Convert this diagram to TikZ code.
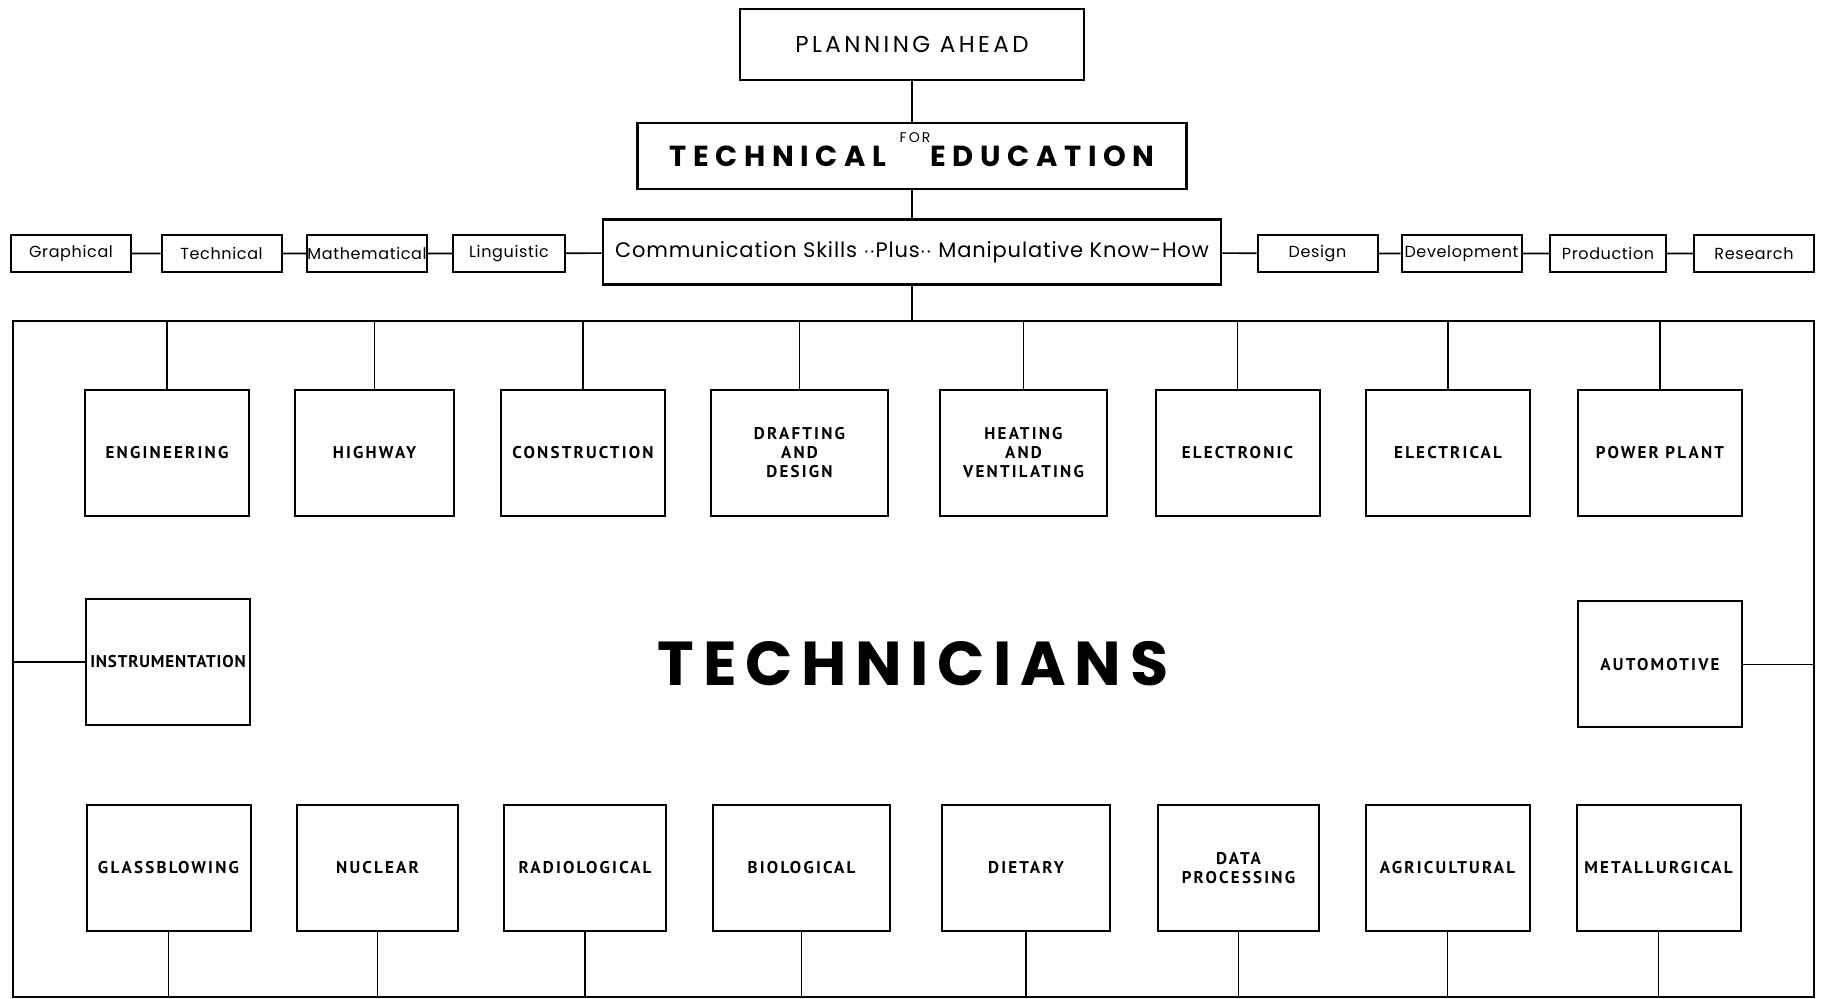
\documentclass[tikz,border=0pt]{standalone}
\usepackage{fontspec}
\setmainfont{Poppins}
\newfontfamily\letterfont{PT Sans}[LetterSpace=13]
\newfontfamily\headfont{Poppins}[LetterSpace=15]
\newfontfamily\skillfont{Poppins}[LetterSpace=4]
\newfontfamily\bigfont{Poppins}[LetterSpace=23]
\newfontfamily\hugefont{Poppins}[LetterSpace=14]

\begin{document}
\begin{tikzpicture}[x=0.5pt,y=-0.5pt,
    headbox/.style={draw, line width=1.4pt, inner sep=0pt},
    skillbox/.style={draw, line width=1pt, minimum width=60pt,
      minimum height=18.5pt, inner sep=0pt,
      font=\skillfont\fontsize{8}{9}\selectfont},
    techbox/.style={draw, line width=1pt, minimum width=82pt,
      minimum height=63pt, inner sep=0pt, align=center,
      font=\letterfont\bfseries\fontsize{8.5}{9.5}\selectfont},
    link/.style={line width=0.8pt}]
  \useasboundingbox (0,0) rectangle (1822,999);

  % heading boxes
  \node[headbox, minimum width=172pt, minimum height=35.5pt,
        font=\headfont\fontsize{11.5}{13}\selectfont] (plan) at (912,44.5) {PLANNING AHEAD};
  \node[headbox, minimum width=274.5pt, minimum height=33pt,
        font=\bigfont\bfseries\fontsize{14.5}{16}\selectfont] (techedu) at (912,156)
        {\raisebox{-3pt}{TECHNICAL}\hspace{22pt}\raisebox{-3pt}{EDUCATION}};
  \node[font=\headfont\fontsize{7}{8}\selectfont, inner sep=0pt] (for) at (915,138) {FOR};
  \node[headbox, minimum width=309pt, minimum height=32.5pt,
        font=\skillfont\fontsize{10.5}{12}\selectfont] (comm) at (912,252)
        {Communication Skills $\cdot\cdot$Plus$\cdot\cdot$ Manipulative Know-How};

  % skills either side
  \node[skillbox] (graph) at (71,253.5) {Graphical};
  \node[skillbox] (techn) at (221.5,253.5) {Technical};
  \node[skillbox, minimum width=59pt] (math) at (367,253.5) {Mathematical};
  \node[skillbox, minimum width=56pt] (ling) at (509,253.5) {Linguistic};
  \node[skillbox] (design) at (1317.5,253.5) {Design};
  \node[skillbox] (devel) at (1461.5,253.5) {Development};
  \node[skillbox, minimum width=58pt] (prod) at (1608,253.5) {Production};
  \node[skillbox] (resrch) at (1754,253.5) {Research};

  \draw[link] (graph) -- (techn) -- (math) -- (ling) -- (comm);
  \draw[link] (comm) -- (design) -- (devel) -- (prod) -- (resrch);
  \draw[link] (plan) -- (techedu) -- (comm);

  % frame round the technicians
  \coordinate (ftl) at (13,321);
  \coordinate (fbr) at (1814,997);
  \draw[link] (ftl) rectangle (fbr);
  \draw[link] (comm.south) -- (comm.south |- ftl);

  \node[font=\hugefont\bfseries\fontsize{31}{36}\selectfont, inner sep=0pt] (techs) at (913,664) {TECHNICIANS};

  % top row
  \node[techbox] (eng) at (167,453) {ENGINEERING};
  \node[techbox, minimum width=79.5pt] (hwy) at (374.5,453) {HIGHWAY};
  \node[techbox] (constr) at (583,453) {CONSTRUCTION};
  \node[techbox, minimum width=88.5pt] (draft) at (799.5,453) {DRAFTING\\AND\\DESIGN};
  \node[techbox, minimum width=83.5pt] (heat) at (1023.5,453) {HEATING\\AND\\VENTILATING};
  \node[techbox] (elecn) at (1237.5,453) {ELECTRONIC};
  \node[techbox] (elecl) at (1448,453) {ELECTRICAL};
  \node[techbox] (power) at (1660,453) {POWER PLANT};
  \foreach \n in {eng,hwy,constr,draft,heat,elecn,elecl,power}
    \draw[link] (\n.north) -- (\n.north |- ftl);

  % middle row
  \node[techbox] (instr) at (168,662) {\addfontfeature{LetterSpace=5}INSTRUMENTATION};
  \node[techbox] (auto) at (1660,664.5) {AUTOMOTIVE};
  \draw[link] (instr.west) -- (instr.west -| ftl);
  \draw[link] (auto.east) -- (auto.east -| fbr);

  % bottom row
  \node[techbox] (glass) at (168.5,868) {GLASSBLOWING};
  \node[techbox, minimum width=80.5pt] (nucl) at (377.5,868) {NUCLEAR};
  \node[techbox, minimum width=81pt] (radio) at (585,868) {RADIOLOGICAL};
  \node[techbox, minimum width=88.5pt] (bio) at (801.5,868) {BIOLOGICAL};
  \node[techbox, minimum width=84pt] (diet) at (1026,868) {DIETARY};
  \node[techbox, minimum width=80.5pt] (data) at (1238.5,868) {DATA\\PROCESSING};
  \node[techbox] (agri) at (1447.5,868) {AGRICULTURAL};
  \node[techbox] (metal) at (1658.5,868) {METALLURGICAL};
  \foreach \n in {glass,nucl,radio,bio,diet,data,agri,metal}
    \draw[link] (\n.south) -- (\n.south |- fbr);
\end{tikzpicture}
\end{document}
